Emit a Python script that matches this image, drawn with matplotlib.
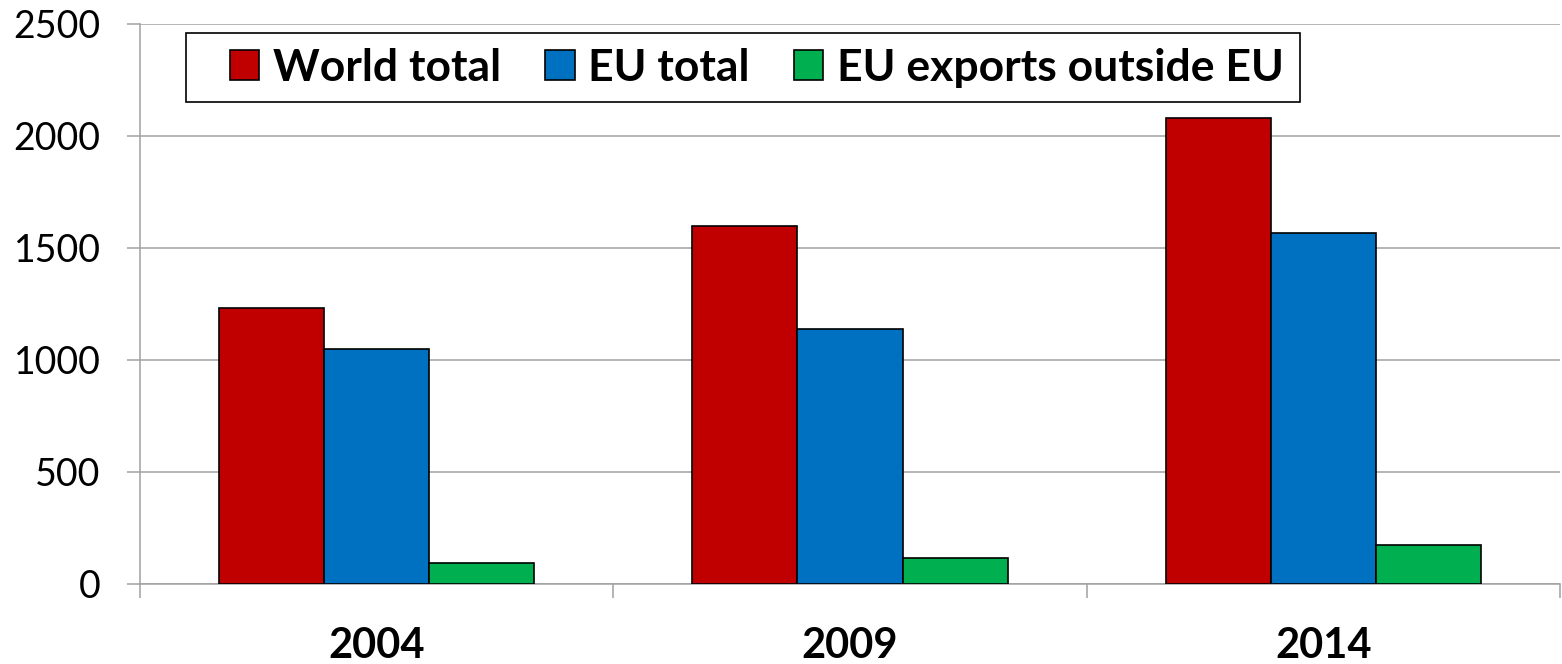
import matplotlib
matplotlib.use("Agg")
import matplotlib.pyplot as plt
from matplotlib.patches import Rectangle
import numpy as np

years = ["2004", "2009", "2014"]
series_names = ["World total", "EU total", "EU exports outside EU"]
world_total = [1230, 1600, 2080]
eu_total = [1050, 1140, 1565]
eu_outside = [95, 115, 175]
colors = ["#C00000", "#0070C0", "#00B050"]
y_ticks = [0, 500, 1000, 1500, 2000, 2500]

plt.rcParams['font.family'] = ['Lato', 'DejaVu Sans']

W, H = 1562, 664
fig = plt.figure(figsize=(W/100, H/100), dpi=100)
ax = fig.add_axes([140/W, 1-584/H, 1420/W, 560/H])

x = np.arange(len(years))
w = 105/473.3
grey = "#A0A0A0"
for i, (vals, name, c) in enumerate(zip([world_total, eu_total, eu_outside], series_names, colors)):
    ax.bar(x + (i-1)*w, vals, width=w, color=c, edgecolor="black", linewidth=1.2,
           label=name, zorder=3)

ax.set_xlim(-0.5, 2.5)
ax.set_ylim(0, 2500)
ax.set_yticks(y_ticks)
ax.set_yticklabels([str(v) for v in y_ticks], fontsize=27)
ax.yaxis.grid(True, color=grey, linewidth=1.1, zorder=0)
ax.set_xticks(x)
ax.set_xticklabels(years, fontsize=30, fontweight='bold')
ax.set_xticks([-0.5, 0.5, 1.5, 2.5], minor=True)
ax.tick_params(axis='x', which='major', length=0, pad=31)
ax.tick_params(axis='x', which='minor', length=10, width=1.1, color=grey)
ax.tick_params(axis='y', which='major', length=9.4, width=1.1, color=grey, pad=19)
for s in ['top', 'right']:
    ax.spines[s].set_visible(False)
for s in ['left', 'bottom']:
    ax.spines[s].set_color(grey)
    ax.spines[s].set_linewidth(1.1)
ax.set_axisbelow(True)

# legend frame (drawn separately to match asymmetric padding)
fig.patches.append(Rectangle((186/W, 1-102/H), (1300-186)/W, 69/H,
                             transform=fig.transFigure, facecolor='white',
                             edgecolor='black', linewidth=1.2, zorder=4))
leg = fig.legend(loc='center left', bbox_to_anchor=(230/W, 1-68/H),
                 ncol=3, frameon=False,
                 handlelength=0.66, handleheight=0.66,
                 handletextpad=0.3, columnspacing=1.0, borderpad=0.0,
                 borderaxespad=0, prop={'weight': 'bold', 'size': 32})
leg.set_zorder(5)

fig.savefig("out.png", dpi=100)
